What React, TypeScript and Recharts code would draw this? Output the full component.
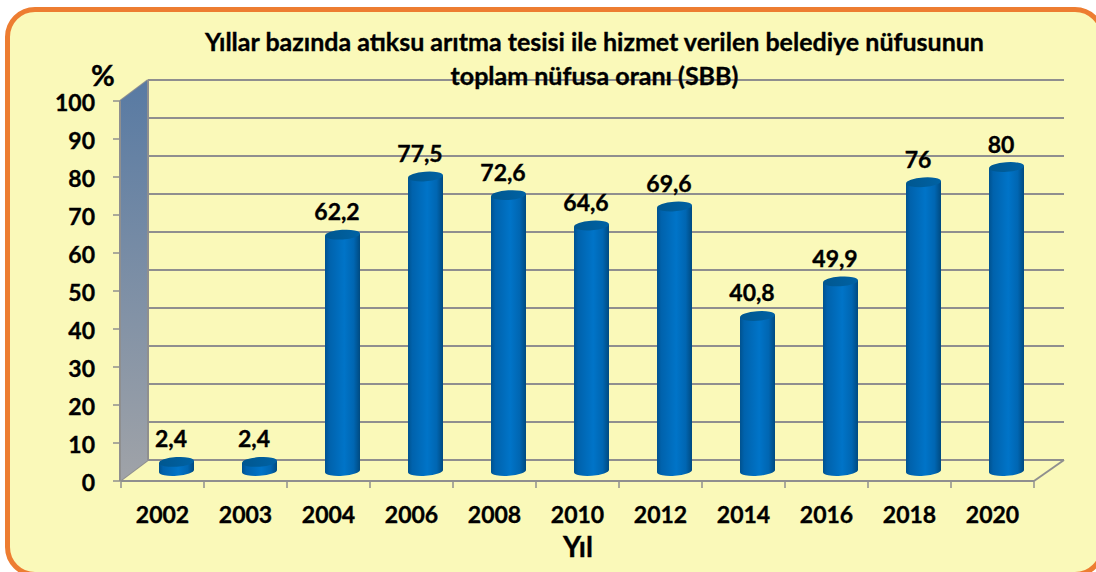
import React from "react";
import { BarChart, Bar, XAxis, YAxis, CartesianGrid, LabelList, ReferenceArea } from "recharts";

const years = ["2002", "2003", "2004", "2006", "2008", "2010", "2012", "2014", "2016", "2018", "2020"];
const rates = [2.4, 2.4, 62.2, 77.5, 72.6, 64.6, 69.6, 40.8, 49.9, 76, 80];
const yTicks = [0, 10, 20, 30, 40, 50, 60, 70, 80, 90, 100];
const titleLines = [
  "Yıllar bazında atıksu arıtma tesisi ile hizmet verilen belediye nüfusunun",
  "toplam nüfusa oranı (SBB)",
];
const data = years.map((year, i) => ({ year, rate: rates[i] }));

const FONT = "Lato, 'Open Sans', sans-serif";
const GRID = "#8f8f8f";
const DX = 28;
const DY = -21;
const BAR_LIFT = -10;
const SLOT = 83;
const PLOT_LEFT = 121;
const PLOT_RIGHT = 1034;
const PLOT_TOP = 101;
const PLOT_BOTTOM = 481;
const textStyle = { fontFamily: FONT, fontWeight: 700, fill: "#000", stroke: "#000", strokeWidth: 0.35 };

const Cylinder = (props: any) => {
  const { x, y, width, height } = props;
  const cx = x + width / 2 + DX / 2;
  const left = cx - width / 2;
  const right = cx + width / 2;
  const top = y + BAR_LIFT;
  const bottom = y + height + BAR_LIFT;
  const rx = width / 2;
  const ry = 4.8;
  const tilt = -4;
  const dTilt = Math.tan((tilt * Math.PI) / 180) * rx;
  const body = `M${left} ${top - dTilt} L${left} ${bottom - dTilt} A${rx} ${ry} ${tilt} 0 0 ${right} ${bottom + dTilt} L${right} ${top + dTilt} Z`;
  return (
    <g>
      <path d={body} fill="url(#cylBody)" />
      <ellipse
        cx={cx}
        cy={top}
        rx={rx}
        ry={ry}
        fill="url(#cylTop)"
        transform={`rotate(${tilt} ${cx} ${top})`}
      />
    </g>
  );
};

const ValueLabel = (props: any) => {
  const { x, y, width, value } = props;
  return (
    <text x={x + width / 2 + 8.5} y={y + BAR_LIFT - 14.5} textAnchor="middle" fontSize={23} {...textStyle}>
      {String(value).replace(".", ",")}
    </text>
  );
};

const GridLine = (props: any) => {
  const { x1, x2, y1, index } = props;
  const y = y1;
  return (
    <g key={index}>
      <line x1={x1 - 1} y1={y} x2={x1 + DX - 1} y2={y + DY} stroke={GRID} strokeWidth={2} />
      <line x1={x1 + DX - 1} y1={y + DY} x2={x2 + DX + 2} y2={y + DY} stroke={GRID} strokeWidth={2} />
    </g>
  );
};

const Wall = (props: any) => {
  const { x, y, height } = props;
  const xl = x - 1;
  const pts = [
    [xl, y],
    [xl + DX, y + DY],
    [xl + DX, y + height + DY],
    [xl, y + height],
  ]
    .map((p) => p.join(","))
    .join(" ");
  return (
    <g>
      <polygon points={pts} fill="url(#wall)" />
      <line x1={xl + DX} y1={y + DY} x2={xl + DX} y2={y + height + DY} stroke={GRID} strokeWidth={2} />
      <line x1={xl} y1={y} x2={xl} y2={y + height} stroke={GRID} strokeWidth={2} />
      <line
        x1={PLOT_RIGHT}
        y1={PLOT_BOTTOM}
        x2={PLOT_RIGHT + DX + 2}
        y2={PLOT_BOTTOM + DY}
        stroke={GRID}
        strokeWidth={2}
      />
    </g>
  );
};

const XTick = (props: any) => {
  const { x, payload, index } = props;
  return (
    <g>
      <line x1={x - SLOT / 2} y1={PLOT_BOTTOM} x2={x - SLOT / 2} y2={PLOT_BOTTOM + 7} stroke={GRID} strokeWidth={1.5} />
      {index === years.length - 1 && (
        <line x1={x + SLOT / 2} y1={PLOT_BOTTOM} x2={x + SLOT / 2} y2={PLOT_BOTTOM + 7} stroke={GRID} strokeWidth={1.5} />
      )}
      <text x={x} y={523} textAnchor="middle" fontSize={23} {...textStyle}>
        {payload.value}
      </text>
    </g>
  );
};

const YTick = (props: any) => {
  const { y, payload } = props;
  return (
    <g>
      <line x1={113} y1={y} x2={120} y2={y} stroke={GRID} strokeWidth={1.5} />
      <text x={95} y={y + 9.5} textAnchor="end" fontSize={23} {...textStyle}>
        {payload.value}
      </text>
    </g>
  );
};

export default function App() {
  return (
    <div style={{ position: "absolute", left: 0, top: 0, width: 1096, height: 572, overflow: "hidden", background: "#fff" }}>
      <div
        style={{
          position: "absolute",
          left: 5,
          top: 7,
          width: 1100,
          height: 570,
          boxSizing: "border-box",
          border: "5px solid #ED7D31",
          borderRadius: 30,
          background: "#FAF9B9",
        }}
      />
      <BarChart
        width={1096}
        height={572}
        data={data}
        margin={{ top: PLOT_TOP, left: PLOT_LEFT - 60, right: 1096 - PLOT_RIGHT, bottom: 572 - PLOT_BOTTOM - 40 }}
        style={{ position: "absolute", left: 0, top: 0 }}
      >
        <defs>
          <linearGradient id="wall" x1="0" y1="0" x2="0" y2="1">
            <stop offset="0%" stopColor="#587aa3" />
            <stop offset="100%" stopColor="#a0a3a8" />
          </linearGradient>
          <linearGradient id="cylBody" x1="0" y1="0" x2="1" y2="0">
            <stop offset="0%" stopColor="#00528f" />
            <stop offset="12%" stopColor="#0062ac" />
            <stop offset="55%" stopColor="#0074c8" />
            <stop offset="82%" stopColor="#0066b2" />
            <stop offset="100%" stopColor="#004a80" />
          </linearGradient>
          <linearGradient id="cylTop" x1="0" y1="0" x2="1" y2="0">
            <stop offset="0%" stopColor="#00578f" />
            <stop offset="100%" stopColor="#0062a4" />
          </linearGradient>
        </defs>
        <ReferenceArea y1={0} y2={100} shape={Wall} ifOverflow="visible" />
        <CartesianGrid vertical={false} horizontal={GridLine as any} />
        <XAxis
          dataKey="year"
          height={40}
          tick={XTick}
          tickLine={false}
          interval={0}
          axisLine={{ stroke: GRID, strokeWidth: 2 }}
        />
        <YAxis
          width={60}
          domain={[0, 100]}
          ticks={yTicks}
          interval={0}
          tick={YTick}
          tickLine={false}
          axisLine={false}
        />
        <Bar dataKey="rate" barSize={35} shape={Cylinder} isAnimationActive={false}>
          <LabelList dataKey="rate" content={ValueLabel} />
        </Bar>
        <text x={594.5} y={51} textAnchor="middle" fontSize={25} {...textStyle}>
          {titleLines[0]}
        </text>
        <text x={594.5} y={84.5} textAnchor="middle" fontSize={25} {...textStyle}>
          {titleLines[1]}
        </text>
        <text x={103} y={86} textAnchor="middle" fontSize={29} {...textStyle}>
          %
        </text>
        <text x={578} y={557} textAnchor="middle" fontSize={28} {...textStyle}>
          Yıl
        </text>
      </BarChart>
    </div>
  );
}
